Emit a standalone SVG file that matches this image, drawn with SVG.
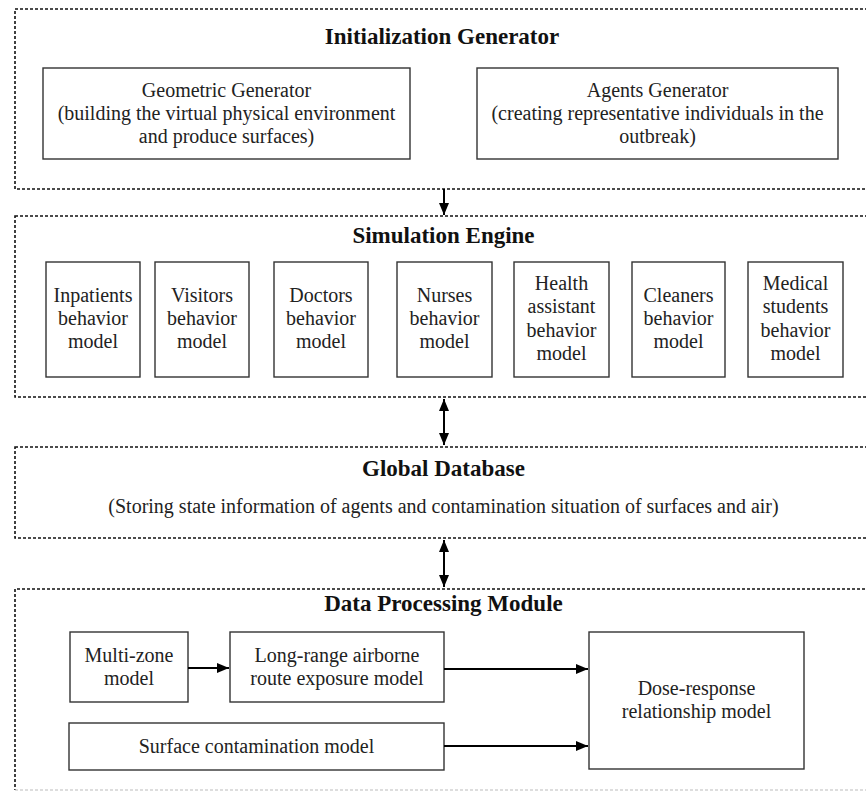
<svg xmlns="http://www.w3.org/2000/svg" width="866" height="791" viewBox="0 0 866 791">
  <style>
    .frame { fill: none; stroke: #111; stroke-width: 1.6; stroke-dasharray: 3 2; }
    .frame-light { fill: none; stroke: #bbb; stroke-width: 1.2; stroke-dasharray: 3 2; }
    .box { fill: #fff; stroke: #333; stroke-width: 1.4; }
    .title { font-family: "Liberation Serif", "Times New Roman", serif; font-weight: bold; font-size: 23px; fill: #111; text-anchor: middle; }
    .txt { font-family: "Liberation Serif", "Times New Roman", serif; font-size: 20px; fill: #222; text-anchor: middle; }
    .conn { fill: none; stroke: #000; stroke-width: 2; }
  </style>
  <defs>
    <marker id="head" viewBox="0 0 12 10" refX="12" refY="5" markerWidth="6" markerHeight="5" orient="auto-start-reverse" markerUnits="strokeWidth">
      <path d="M0,0 L12,5 L0,10 Z" fill="#000"/>
    </marker>
  </defs>
  <rect width="866" height="791" fill="#fff"/>

  <!-- Initialization Generator -->
  <g id="init-generator">
    <rect class="frame" x="15" y="9" width="870" height="180"/>
    <text class="title" x="442" y="44">Initialization Generator</text>
    <g id="geometric-generator">
      <rect class="box" x="43" y="68" width="367" height="91"/>
      <text class="txt" x="226.5" y="97">Geometric Generator</text>
      <text class="txt" x="226.5" y="120">(building the virtual physical environment</text>
      <text class="txt" x="226.5" y="143">and produce surfaces)</text>
    </g>
    <g id="agents-generator">
      <rect class="box" x="477" y="68" width="361" height="91"/>
      <text class="txt" x="657.5" y="97">Agents Generator</text>
      <text class="txt" x="657.5" y="120">(creating representative individuals in the</text>
      <text class="txt" x="657.5" y="143">outbreak)</text>
    </g>
  </g>

  <!-- Simulation Engine -->
  <g id="simulation-engine">
    <rect class="frame" x="15" y="216" width="870" height="181"/>
    <text class="title" x="443.5" y="243">Simulation Engine</text>
    <g id="inpatients">
      <rect class="box" x="46" y="262" width="94" height="115"/>
      <text class="txt" x="93" y="302">Inpatients</text>
      <text class="txt" x="93" y="325">behavior</text>
      <text class="txt" x="93" y="348">model</text>
    </g>
    <g id="visitors">
      <rect class="box" x="155" y="262" width="94" height="115"/>
      <text class="txt" x="202" y="302">Visitors</text>
      <text class="txt" x="202" y="325">behavior</text>
      <text class="txt" x="202" y="348">model</text>
    </g>
    <g id="doctors">
      <rect class="box" x="274" y="262" width="94" height="115"/>
      <text class="txt" x="321" y="302">Doctors</text>
      <text class="txt" x="321" y="325">behavior</text>
      <text class="txt" x="321" y="348">model</text>
    </g>
    <g id="nurses">
      <rect class="box" x="397" y="262" width="95" height="115"/>
      <text class="txt" x="444.5" y="302">Nurses</text>
      <text class="txt" x="444.5" y="325">behavior</text>
      <text class="txt" x="444.5" y="348">model</text>
    </g>
    <g id="health-assistant">
      <rect class="box" x="514" y="262" width="95" height="115"/>
      <text class="txt" x="561.5" y="290">Health</text>
      <text class="txt" x="561.5" y="313">assistant</text>
      <text class="txt" x="561.5" y="337">behavior</text>
      <text class="txt" x="561.5" y="360">model</text>
    </g>
    <g id="cleaners">
      <rect class="box" x="632" y="262" width="93" height="115"/>
      <text class="txt" x="678.5" y="302">Cleaners</text>
      <text class="txt" x="678.5" y="325">behavior</text>
      <text class="txt" x="678.5" y="348">model</text>
    </g>
    <g id="medical-students">
      <rect class="box" x="748" y="262" width="95" height="115"/>
      <text class="txt" x="795.5" y="290">Medical</text>
      <text class="txt" x="795.5" y="313">students</text>
      <text class="txt" x="795.5" y="337">behavior</text>
      <text class="txt" x="795.5" y="360">model</text>
    </g>
  </g>

  <!-- Global Database -->
  <g id="global-database">
    <rect class="frame" x="15" y="447" width="870" height="91"/>
    <text class="title" x="443.5" y="476">Global Database</text>
    <text class="txt" x="443.5" y="513">(Storing state information of agents and contamination situation of surfaces and air)</text>
  </g>

  <!-- Data Processing Module -->
  <g id="data-processing">
    <path class="frame" d="M885,589 H15 V790"/>
    <path class="frame-light" d="M15,790 H885"/>
    <text class="title" x="443.5" y="611">Data Processing Module</text>
    <g id="multi-zone">
      <rect class="box" x="70" y="632" width="118" height="70"/>
      <text class="txt" x="129" y="662">Multi-zone</text>
      <text class="txt" x="129" y="685">model</text>
    </g>
    <g id="long-range">
      <rect class="box" x="230" y="632" width="214" height="70"/>
      <text class="txt" x="337" y="662">Long-range airborne</text>
      <text class="txt" x="337" y="685">route exposure model</text>
    </g>
    <g id="surface-contamination">
      <rect class="box" x="69" y="723" width="375" height="47"/>
      <text class="txt" x="256.5" y="753">Surface contamination model</text>
    </g>
    <g id="dose-response">
      <rect class="box" x="589" y="632" width="215" height="137"/>
      <text class="txt" x="696.5" y="695">Dose-response</text>
      <text class="txt" x="696.5" y="718">relationship model</text>
    </g>
  </g>

  <!-- Connectors -->
  <g id="connectors">
    <line class="conn" x1="444" y1="189" x2="444" y2="215" marker-end="url(#head)"/>
    <line class="conn" x1="444" y1="399" x2="444" y2="445" marker-start="url(#head)" marker-end="url(#head)"/>
    <line class="conn" x1="444" y1="540" x2="444" y2="587" marker-start="url(#head)" marker-end="url(#head)"/>
    <line class="conn" x1="188" y1="668" x2="229" y2="668" marker-end="url(#head)"/>
    <line class="conn" x1="444" y1="669" x2="588" y2="669" marker-end="url(#head)"/>
    <line class="conn" x1="444" y1="746" x2="588" y2="746" marker-end="url(#head)"/>
  </g>
</svg>
